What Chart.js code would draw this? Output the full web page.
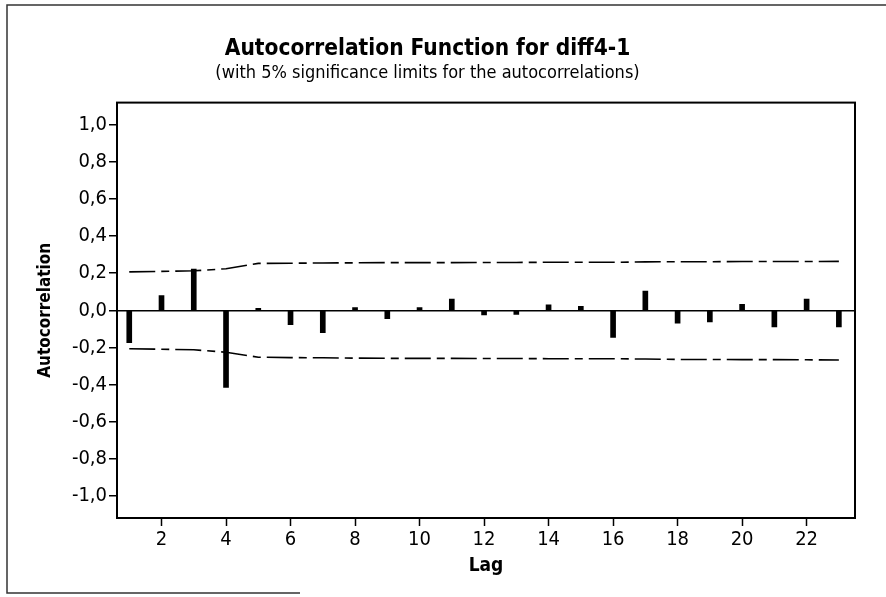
<!DOCTYPE html>
<html>
<head>
<meta charset="utf-8">
<script src="https://cdn.jsdelivr.net/npm/chart.js@4/dist/chart.umd.min.js"></script>
<style>
  html, body { margin: 0; padding: 0; background: #fff; }
</style>
</head>
<body>
<canvas id="chart" width="886" height="597"></canvas>
<script>
const lags = [1, 2, 3, 4, 5, 6, 7, 8, 9, 10, 11, 12, 13, 14, 15, 16, 17, 18, 19, 20, 21, 22, 23];
const acf = [-0.175, 0.079, 0.222, -0.416, 0.010, -0.078, -0.120, 0.015, -0.045, 0.015, 0.060, -0.025,
  -0.022, 0.029, 0.022, -0.146, 0.104, -0.070, -0.063, 0.032, -0.090, 0.060, -0.090];
const upperLimit = [0.207, 0.210, 0.213, 0.224, 0.253, 0.254, 0.255, 0.256, 0.257, 0.257, 0.257, 0.258,
  0.258, 0.259, 0.259, 0.259, 0.261, 0.262, 0.262, 0.263, 0.263, 0.263, 0.264];
const lowerLimit = [-0.207, -0.210, -0.213, -0.226, -0.253, -0.255, -0.256, -0.258, -0.259, -0.259, -0.259, -0.260,
  -0.260, -0.261, -0.261, -0.261, -0.263, -0.265, -0.265, -0.266, -0.266, -0.267, -0.268];
const xTicks = [2, 4, 6, 8, 10, 12, 14, 16, 18, 20, 22];
const yTicks = [-1.0, -0.8, -0.6, -0.4, -0.2, 0.0, 0.2, 0.4, 0.6, 0.8, 1.0];

const FONT = 'DejaVu Sans Condensed, DejaVu Sans, sans-serif';

const pairs = (ys) => lags.map((x, i) => ({ x: x, y: ys[i] }));

// white page, scanned page edge, and the closed plot box
const framePlugin = {
  id: 'frame',
  beforeDraw(chart) {
    const c = chart.ctx;
    c.save();
    c.fillStyle = '#fff';
    c.fillRect(0, 0, chart.width, chart.height);
    c.strokeStyle = '#333';
    c.lineWidth = 1.5;
    c.beginPath();
    c.moveTo(886, 5);
    c.lineTo(7, 5);
    c.lineTo(7, 593);
    c.lineTo(300, 593);
    c.stroke();
    c.restore();
  },
  afterDraw(chart) {
    const a = chart.chartArea;
    const c = chart.ctx;
    c.save();
    c.strokeStyle = '#000';
    c.lineWidth = 2;
    c.strokeRect(a.left, a.top, a.right - a.left, a.bottom - a.top);
    c.restore();
  }
};

new Chart(document.getElementById('chart'), {
  data: {
    datasets: [
      {
        type: 'bar',
        data: pairs(acf),
        backgroundColor: '#000',
        borderWidth: 0,
        barThickness: 5,
        order: 2
      },
      {
        type: 'line',
        data: pairs(upperLimit),
        borderColor: '#000',
        borderWidth: 1.6,
        borderDash: [26, 6, 8, 6],
        pointRadius: 0,
        tension: 0,
        fill: false,
        order: 1
      },
      {
        type: 'line',
        data: pairs(lowerLimit),
        borderColor: '#000',
        borderWidth: 1.6,
        borderDash: [26, 6, 8, 6],
        pointRadius: 0,
        tension: 0,
        fill: false,
        order: 1
      }
    ]
  },
  options: {
    responsive: false,
    animation: false,
    devicePixelRatio: 1,
    layout: { padding: { left: 0, right: 31, top: 0, bottom: 0 } },
    plugins: {
      legend: { display: false },
      tooltip: { enabled: false },
      title: {
        display: true,
        text: 'Autocorrelation Function for diff4-1',
        color: '#000',
        font: { family: FONT, size: 22.5, weight: 'bold' },
        padding: { top: 36, bottom: 0 }
      },
      subtitle: {
        display: true,
        text: '(with 5% significance limits for the autocorrelations)',
        color: '#000',
        font: { family: FONT, size: 18 },
        padding: { top: 0, bottom: 18 }
      }
    },
    scales: {
      x: {
        type: 'linear',
        min: 0.62,
        max: 23.5,
        offset: false,
        afterFit: (s) => { s.height = 79; },
        afterBuildTicks: (s) => { s.ticks = xTicks.map(v => ({ value: v })); },
        ticks: {
          color: '#000',
          font: { family: FONT, size: 20 },
          padding: 2,
          maxRotation: 0,
          autoSkip: false
        },
        grid: {
          display: true,
          offset: false,
          drawOnChartArea: false,
          drawTicks: true,
          tickLength: 8,
          tickColor: '#000',
          tickWidth: 1.5
        },
        border: { display: true, color: '#000', width: 2 },
        title: {
          display: true,
          text: 'Lag',
          color: '#000',
          font: { family: FONT, size: 19, weight: 'bold' },
          padding: { top: 0, bottom: 20 }
        }
      },
      y: {
        type: 'linear',
        min: -1.12,
        max: 1.12,
        afterFit: (s) => { s.width = 117; },
        afterBuildTicks: (s) => { s.ticks = yTicks.map(v => ({ value: v })); },
        ticks: {
          color: '#000',
          font: { family: FONT, size: 20 },
          padding: 2,
          callback: (v) => v.toFixed(1).replace('.', ',')
        },
        grid: {
          display: true,
          drawOnChartArea: true,
          drawTicks: true,
          tickLength: 8,
          tickColor: '#000',
          tickWidth: 1.5,
          color: (ctx) => (ctx.tick && ctx.tick.value === 0 ? '#000' : 'rgba(0,0,0,0)'),
          lineWidth: 1.5
        },
        border: { display: true, color: '#000', width: 2 },
        title: {
          display: true,
          text: 'Autocorrelation',
          color: '#000',
          font: { family: FONT, size: 17, weight: 'bold' },
          padding: { top: 35, bottom: 0 }
        }
      }
    }
  },
  plugins: [framePlugin]
});
</script>
</body>
</html>
